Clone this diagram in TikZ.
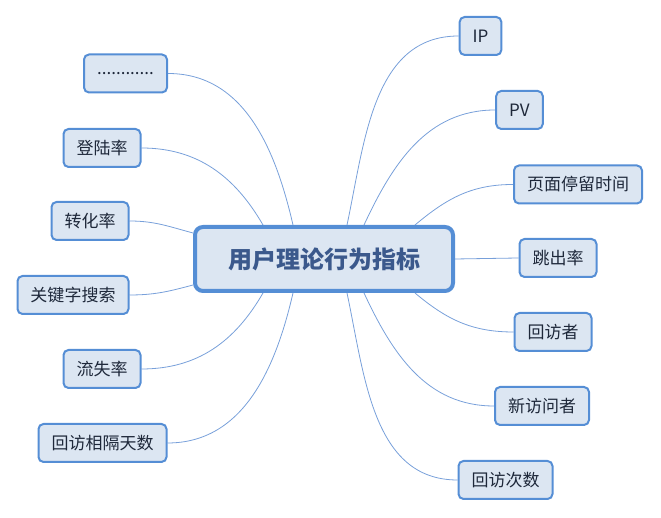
\documentclass[tikz,border=0pt]{standalone}
\usepackage{fontspec}
\setmainfont{Noto Sans CJK SC}
\usetikzlibrary{backgrounds}
\definecolor{mapline}{RGB}{85,142,213}
\definecolor{mapfill}{RGB}{220,230,242}
\definecolor{maplink}{RGB}{120,160,218}
\definecolor{maptext}{RGB}{30,40,58}
\definecolor{roottext}{RGB}{59,89,140}

\begin{document}
\begin{tikzpicture}
[x=1pt,y=1pt
,sn/.style={draw=mapline,fill=mapfill,line width=2pt,rounded corners=5pt
  ,minimum height=38pt,inner xsep=13pt,text=maptext
  ,font=\fontsize{17}{17}\selectfont}
,mn/.style={sn,line width=4pt,rounded corners=8pt,minimum width=258pt
  ,minimum height=64pt,text=roottext,font=\fontsize{24}{24}\selectfont\bfseries}
,ln/.style={draw=maplink,line width=0.8pt}]
\useasboundingbox (0,0) rectangle (661,518);
\node[mn] (c) at (324,259) {用户理论行为指标};
% left side
\node[sn,minimum width=83pt] (dots) at (125.5,444.5) {............};
\node[sn] (dl) at (102,370) {登陆率};
\node[sn] (zh) at (90,297) {转化率};
\node[sn] (gj) at (73,223) {关键字搜索};
\node[sn] (ls) at (102,149) {流失率};
\node[sn] (gt) at (102.5,75) {回访相隔天数};
% right side
\node[sn] (ip) at (480.5,482) {IP};
\node[sn] (pv) at (519.5,408) {PV};
\node[sn] (tl) at (578,333.5) {页面停留时间};
\node[sn] (tc) at (558,260) {跳出率};
\node[sn] (hf) at (553,186) {回访者};
\node[sn] (xf) at (542,112) {新访问者};
\node[sn] (hc) at (505.5,38) {回访次数};
\begin{scope}[on background layer]
\draw[ln] ([xshift=-31]c.north) to[out=103,in=0] (dots.east);
\draw[ln] ([xshift=-61]c.north) to[out=120,in=0] (dl.east);
\draw[ln] ([yshift=26]c.west) to[out=165,in=0] (zh.east);
\draw[ln] ([yshift=-26]c.west) to[out=195,in=0] (gj.east);
\draw[ln] ([xshift=-61]c.south) to[out=240,in=0] (ls.east);
\draw[ln] ([xshift=-31]c.south) to[out=257,in=0] (gt.east);
\draw[ln] ([xshift=23]c.north) to[out=78,in=180] (ip.west);
\draw[ln] ([xshift=40]c.north) to[out=65,in=180] (pv.west);
\draw[ln] ([xshift=91]c.north) to[out=40,in=180] (tl.west);
\draw[ln] (c.east) -- (tc.west);
\draw[ln] ([xshift=91]c.south) to[out=-40,in=180] (hf.west);
\draw[ln] ([xshift=40]c.south) to[out=-65,in=180] (xf.west);
\draw[ln] ([xshift=23]c.south) to[out=-78,in=180] (hc.west);
\end{scope}
\end{tikzpicture}
\end{document}
